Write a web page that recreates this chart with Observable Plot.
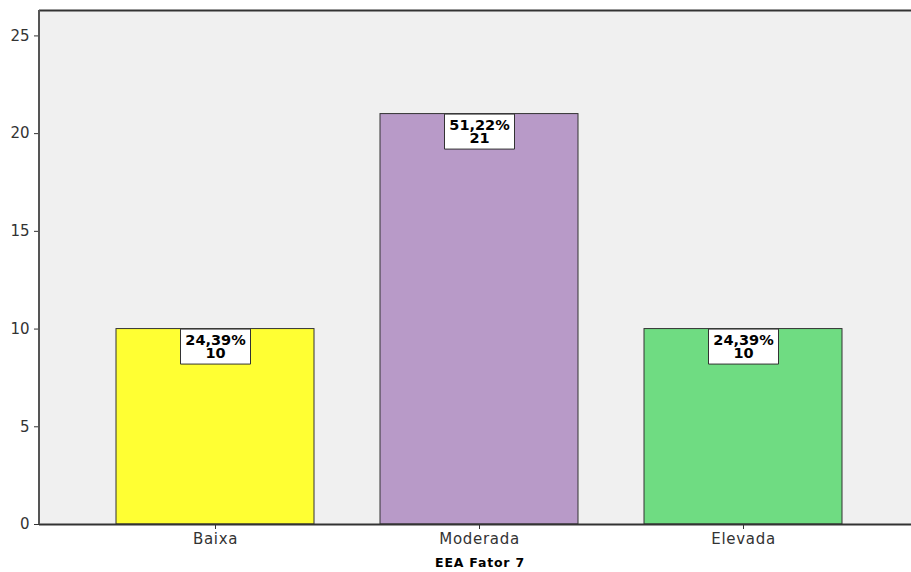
<!DOCTYPE html>
<html>
<head>
<meta charset="utf-8">
<script src="https://cdn.jsdelivr.net/npm/d3@7"></script>
<script src="https://cdn.jsdelivr.net/npm/@observablehq/plot@0.6"></script>
<style>
  html, body { margin: 0; padding: 0; background: #fff; overflow: hidden; }
  #chart svg { display: block; overflow: hidden; }
</style>
</head>
<body>
<div id="chart"></div>
<script>
const categories = ["Baixa", "Moderada", "Elevada"];
const counts = [10, 21, 10];
const percents = ["24,39%", "51,22%", "24,39%"];
const colors = ["#ffff33", "#b89ac8", "#6fdc82"];
const yTicks = [0, 5, 10, 15, 20, 25];
const yMax = 26.3;
const xLabel = "EEA Fator 7";

const data = categories.map((c, i) => ({
  category: c,
  count: counts[i],
  label: percents[i] + "\n" + counts[i]
}));

const W = 911, H = 572;
const mL = 39, mT = 10, mB = 48;

// fixed-size label box drawn as a custom dot symbol (anchored at its top centre)
const boxSymbol = {
  draw(context) {
    context.rect(-35, 0, 70, 35);
  }
};

const chart = Plot.plot({
  width: W,
  height: H,
  marginLeft: mL,
  marginRight: 0,
  marginTop: mT,
  marginBottom: mB,
  style: { fontFamily: "'DejaVu Sans', sans-serif", fontSize: "15px", color: "#333", background: "#fff" },
  x: { domain: categories, range: [mL, 919], paddingInner: 0.25, paddingOuter: 0.29, label: null },
  y: { domain: [0, yMax], label: null },
  color: { domain: categories, range: colors },
  marks: [
    Plot.frame({ fill: "#f0f0f0", stroke: "none" }),
    Plot.barY(data, { x: "category", y: "count", fill: "category", stroke: "#333", strokeWidth: 1 }),
    Plot.dot(data, { x: "category", y: "count", symbol: boxSymbol, r: 5, fill: "#fff", stroke: "#333", strokeWidth: 1 }),
    Plot.text(data, {
      x: "category", y: "count", text: "label",
      lineAnchor: "top", dy: 6, lineHeight: 0.93,
      fontWeight: "bold", fontSize: 14.5, fill: "#000"
    }),
    Plot.ruleY([yMax], { stroke: "#333", strokeWidth: 2 }),
    Plot.ruleY([0], { stroke: "#333", strokeWidth: 2 }),
    Plot.axisY({ ticks: yTicks, tickSize: 5, tickPadding: 5, tickFormat: d => d, stroke: "#333", fill: "#333", fontSize: 15, label: null }),
    Plot.axisX({ tickSize: 5, tickPadding: 4, stroke: "#333", fill: "#333", fontSize: 15, label: null }),
    Plot.text([xLabel], {
      frameAnchor: "bottom", dy: 34, dx: 4.5, fontWeight: "bold", fontSize: 12.5, fill: "#000",
      lineAnchor: "top"
    })
  ]
});

document.getElementById("chart").appendChild(chart);

const svg = d3.select(chart);
const ys = chart.scale("y");

// left axis line
svg.append("line")
  .attr("x1", mL).attr("x2", mL)
  .attr("y1", mT).attr("y2", ys.apply(0))
  .attr("stroke", "#555").attr("stroke-width", 2);

// letter spacing for axis labels
svg.selectAll('g[aria-label="x-axis tick label"] text').style("letter-spacing", "0.7px");
const textGroups = svg.selectAll('g[aria-label="text"]').nodes();
if (textGroups.length > 1) d3.select(textGroups[textGroups.length - 1]).selectAll("text").style("letter-spacing", "0.8px");
</script>
</body>
</html>
